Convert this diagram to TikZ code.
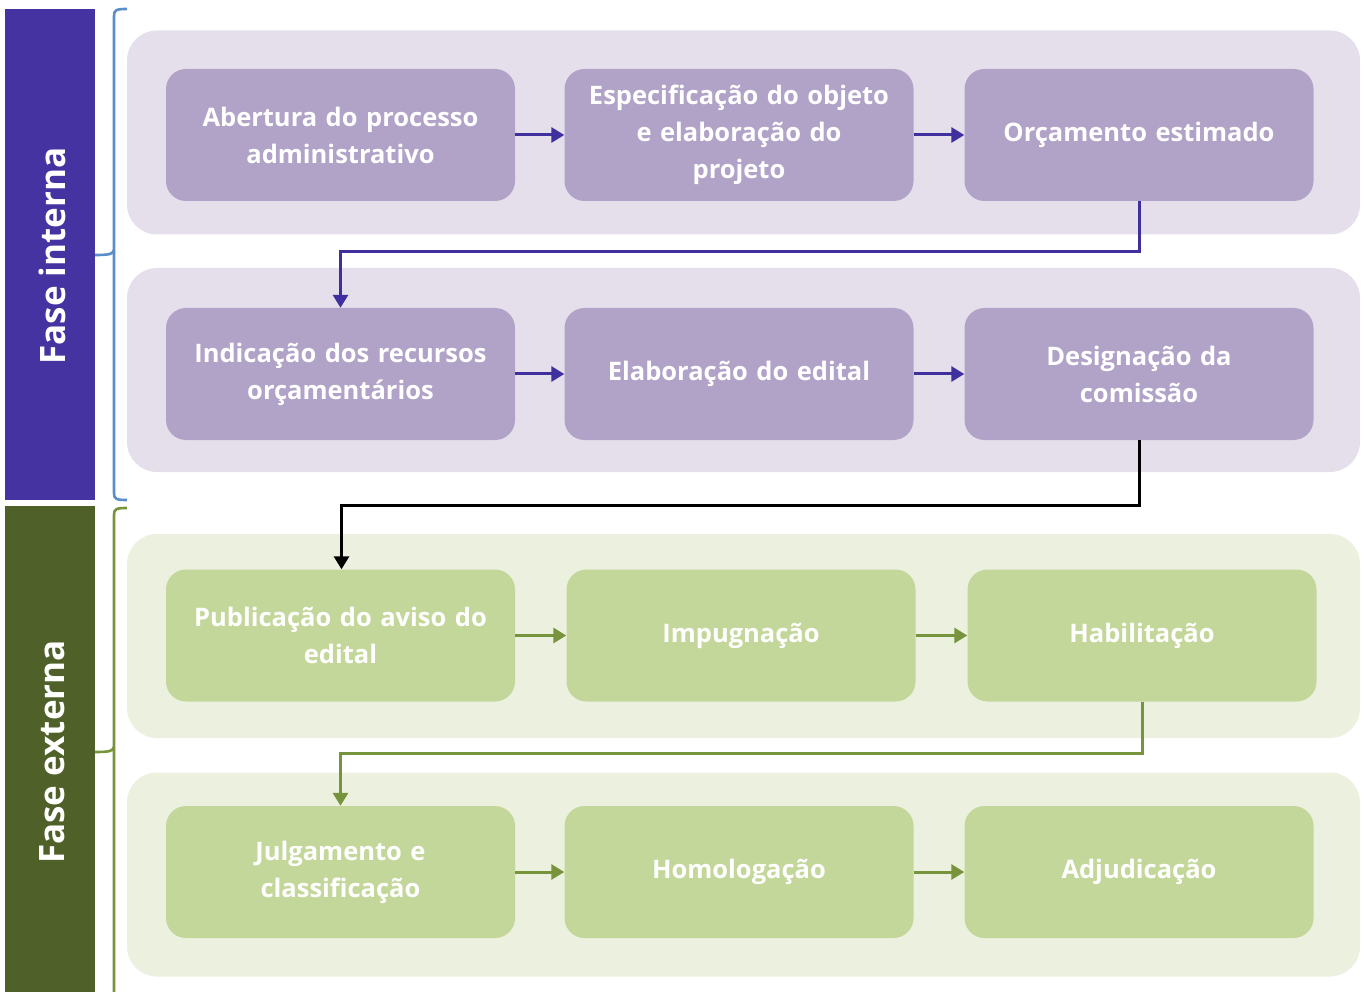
\documentclass[tikz,border=0pt]{standalone}
\usepackage{fontspec}
\setmainfont{Open Sans}
\usetikzlibrary{arrows.meta}
\definecolor{pbar}{HTML}{4433A0}
\definecolor{pbox}{HTML}{B1A2C8}
\definecolor{ppan}{HTML}{E5DFEC}
\definecolor{parr}{HTML}{3F2F9F}
\definecolor{pbrace}{HTML}{5B8DC8}
\definecolor{gbar}{HTML}{4F6128}
\definecolor{gbox}{HTML}{C4D79B}
\definecolor{gpan}{HTML}{EBF1DE}
\definecolor{garr}{HTML}{77933C}
\tikzset{
  box/.style={rounded corners=20pt, minimum width=349pt, minimum height=132pt, text width=330pt, align=center, text=white, font=\fontsize{25.5}{37}\selectfont\bfseries, inner sep=0pt},
  pbx/.style={box, fill=pbox},
  gbx/.style={box, fill=gbox},
  panel/.style={rounded corners=30pt, minimum width=1233pt, minimum height=204pt, inner sep=0pt},
  sidebar/.style={minimum width=90pt, inner sep=0pt},
  sidetext/.style={rotate=90, text=white, font=\fontsize{35}{40}\selectfont\bfseries},
  conn/.style={line width=3pt, -{Triangle[length=13pt,width=15pt]}},
  brace/.style={line width=2.6pt}
}
\begin{document}
\begin{tikzpicture}[x=1pt,y=-1pt]
\useasboundingbox (0,0) rectangle (1369,992);
% side bars
\node[sidebar, fill=pbar, minimum height=491pt] (sb1) at (50,254.5) {};
\node[sidetext] (t1) at (52,256) {Fase interna};
\node[sidebar, fill=gbar, minimum height=486pt] (sb2) at (50,749) {};
\node[sidetext] (t2) at (52,752) {Fase externa};
% braces
\draw[brace, pbrace] (127,9) .. controls (116,9) and (114,10) .. (114,16) -- (114,249) .. controls (114,254) and (110,255) .. (95,255) (114,249) -- (114,493) .. controls (114,499) and (116,500) .. (127,500);
\draw[brace, garr] (127,508) .. controls (116,508) and (114,509) .. (114,515) -- (114,746) .. controls (114,751) and (110,752) .. (95,752) (114,746) -- (114,992);
% panels
\node[panel, fill=ppan] (p1) at (743.5,132.5) {};
\node[panel, fill=ppan] (p2) at (743.5,370) {};
\node[panel, fill=gpan] (p3) at (743.5,636) {};
\node[panel, fill=gpan] (p4) at (743.5,874.5) {};
% boxes
\node[pbx] (a1) at (340.5,135) {Abertura do processo\\administrativo};
\node[pbx] (a2) at (739,135) {Especificação do objeto\\e elaboração do\\projeto};
\node[pbx] (a3) at (1139,135) {Orçamento estimado};
\node[pbx] (b1) at (340.5,374) {Indicação dos recursos\\orçamentários};
\node[pbx] (b2) at (739,374) {Elaboração do edital};
\node[pbx] (b3) at (1139,374) {Designação da\\comissão};
\node[gbx] (c1) at (340.5,635.5) {Publicação do aviso do\\edital};
\node[gbx] (c2) at (741,635.5) {Impugnação};
\node[gbx] (c3) at (1142,635.5) {Habilitação};
\node[gbx] (d1) at (340.5,872) {Julgamento e\\classificação};
\node[gbx] (d2) at (739,872) {Homologação};
\node[gbx] (d3) at (1139,872) {Adjudicação};
% horizontal arrows
\draw[conn, parr] (a1) -- (a2);
\draw[conn, parr] (a2) -- (a3);
\draw[conn, parr] (b1) -- (b2);
\draw[conn, parr] (b2) -- (b3);
\draw[conn, garr] (c1) -- (c2);
\draw[conn, garr] (c2) -- (c3);
\draw[conn, garr] (d1) -- (d2);
\draw[conn, garr] (d2) -- (d3);
% elbow connectors
\coordinate (k1) at (340.5,252);
\coordinate (k2) at (341.5,505);
\coordinate (k3) at (340.5,753);
\draw[conn, parr] (a3.south) |- (k1) -- (b1.north);
\draw[conn, black] (b3.south) |- (k2) -- (k2 |- c1.north);
\draw[conn, garr] (c3.south) |- (k3) -- (d1.north);
\end{tikzpicture}
\end{document}
